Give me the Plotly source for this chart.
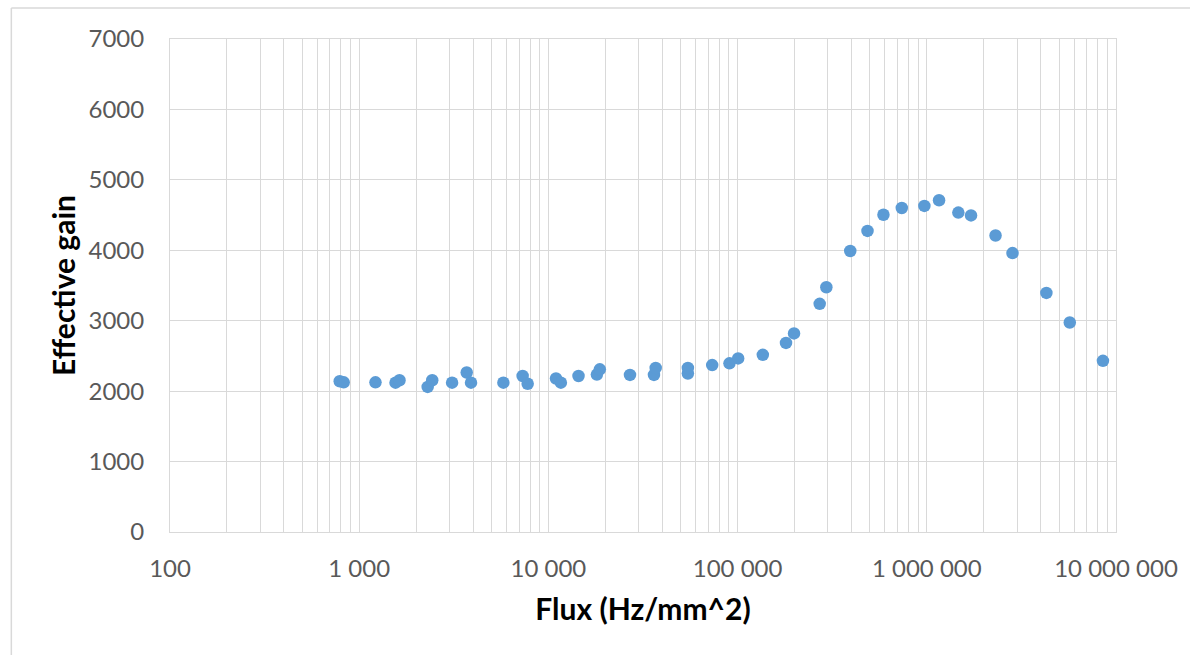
import plotly.graph_objects as go

flux = [789, 828, 1219, 1556, 1633, 2301, 2432, 3097, 3700, 3900,
        5780, 7310, 7770, 10970, 11640, 14430, 18040, 18700,
        26990, 36140, 36900, 54600, 54600, 73400, 90600, 100700,
        135900, 180200, 198700, 271600, 294500, 393900, 486000,
        590000, 737600, 971000, 1161000, 1468000, 1713000, 2309000,
        2838000, 4287000, 5697000, 8530000]
gain = [2140, 2125, 2125, 2120, 2155, 2060, 2155, 2120, 2265, 2120,
        2120, 2215, 2105, 2180, 2120, 2215, 2235, 2310,
        2230, 2230, 2330, 2250, 2330, 2370, 2395, 2465,
        2515, 2685, 2820, 3240, 3475, 3990, 4275,
        4505, 4600, 4630, 4710, 4535, 4495, 4210,
        3960, 3395, 2975, 2430]

x_tickvals = [100, 1000, 10000, 100000, 1000000, 10000000]
x_ticktext = ["100", "1 000", "10 000", "100 000", "1 000 000", "10 000 000"]
y_tickvals = [0, 1000, 2000, 3000, 4000, 5000, 6000, 7000]

grid = "#d9d9d9"
tickcol = "#595959"
font = "Lato, 'Open Sans', sans-serif"

fig = go.Figure()
fig.add_trace(go.Scatter(
    x=flux, y=gain, mode="markers",
    marker=dict(color="#5B9BD5", size=12.5, line=dict(width=0)),
    showlegend=False,
))

fig.update_layout(
    width=1190, height=655,
    margin=dict(l=170, r=72, t=39, b=123),
    paper_bgcolor="white", plot_bgcolor="white",
    font=dict(family=font, size=24, color=tickcol),
    xaxis=dict(
        type="log", range=[2, 7],
        tickmode="array", tickvals=x_tickvals, ticktext=x_ticktext,
        showgrid=True, gridcolor=grid, gridwidth=1,
        minor=dict(dtick="D1", showgrid=True, gridcolor=grid, gridwidth=1, ticks=""),
        showline=True, linecolor=grid, linewidth=1, mirror=True,
        ticks="", ticklabelstandoff=15,
        tickfont=dict(size=24, color=tickcol, family=font),
        title=dict(text="<b>Flux (Hz/mm^2)</b>", font=dict(size=30, color="black", family=font), standoff=18),
        zeroline=False,
    ),
    yaxis=dict(
        range=[0, 7000], tickmode="array", tickvals=y_tickvals,
        showgrid=True, gridcolor=grid, gridwidth=1,
        showline=True, linecolor=grid, linewidth=1, mirror=True,
        ticks="", ticklabelstandoff=20,
        tickfont=dict(size=24, color=tickcol, family=font),
        title=dict(text="<b>Effective gain</b>", font=dict(size=30, color="black", family=font), standoff=4),
        zeroline=False,
    ),
    shapes=[
        dict(type="line", xref="paper", yref="paper", x0=-159/948, x1=1.2, y0=(531-8)/492, y1=(531-8)/492,
             line=dict(color=grid, width=1.5)),
        dict(type="line", xref="paper", yref="paper", x0=-159/948, x1=-159/948, y0=(531-8)/492, y1=-(655-531)/492,
             line=dict(color=grid, width=1.5)),
    ],
)

fig.write_html("out.html")
